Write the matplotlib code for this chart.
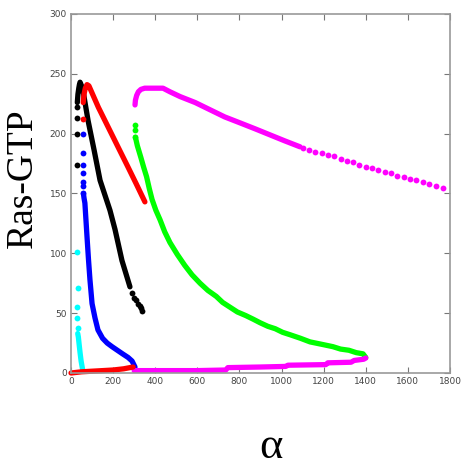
import numpy as np
import matplotlib.pyplot as plt

# cyan branch
cyan_dot_x = [29, 31, 30, 30, 31]
cyan_dot_y = [101, 71, 55, 46, 38]
cyan_x = [32, 35, 38, 43, 48, 55]
cyan_y = [33, 30, 25, 17, 10, 3]

# blue branch
blue_dot_x = [57, 57, 58, 58, 59, 59, 59]
blue_dot_y = [200, 184, 174, 167, 160, 156, 150]
blue_x = [59, 62, 66, 71, 76, 83, 90, 100, 114, 128, 150, 172, 195, 220, 245, 271, 290, 304]
blue_y = [150, 146, 142, 128, 114, 95, 78, 58, 46, 36, 29, 25, 22, 19, 16, 13, 10, 5]

# black branch
black_dot_x = [29, 29, 29, 29, 290, 300, 310, 318, 326, 332, 337]
black_dot_y = [222, 213, 200, 174, 67, 63, 61, 58, 56, 54, 52]
black_x = [30, 33, 37, 40, 43, 50, 57, 81, 110, 138, 185, 209, 242, 280]
black_y = [226, 233, 238, 241, 243, 240, 236, 211, 186, 161, 136, 120, 94, 72]

# red branch
red_dot_x = [57]
red_dot_y = [212]
red_x = [58, 62, 68, 76, 85, 100, 130, 161, 223, 271, 310, 351]
red_y = [226, 233, 238, 241, 240, 234, 222, 211, 189, 172, 158, 143]
red_low_x = [0, 50, 100, 150, 200, 250, 295]
red_low_y = [0, 1, 1.5, 2, 2.5, 3.5, 5]

# green branch
green_dot_x = [304, 305, 306]
green_dot_y = [207, 203, 197]
green_x = [306, 315, 332, 345, 359, 372, 385, 403, 423, 445, 470, 505, 540, 575,
           613, 650, 690, 720, 755, 790, 830, 865, 898, 935, 970, 1005, 1040,
           1090, 1135, 1190, 1244, 1280, 1320, 1355, 1387, 1400]
green_y = [197, 190, 180, 172, 164, 154, 145, 136, 128, 118, 109, 99, 90, 82,
           75, 69, 64, 59, 55, 51, 48, 45, 42, 39, 37, 34, 32,
           29, 26, 24, 22, 20, 19, 17, 16, 13]

# magenta branch
mag_x = [304, 306, 312, 320, 332, 350, 375, 437, 470, 518, 590, 660, 730,
         803, 875, 945, 1015, 1088]
mag_y = [224, 228, 232, 235, 237, 238, 238, 238, 235, 231, 226, 220, 214,
         209, 204, 199, 194, 189]
mag_dot_x = [1100, 1130, 1160, 1190, 1220, 1250, 1280, 1310, 1340, 1370, 1400,
             1430, 1460, 1490, 1520, 1550, 1580, 1610, 1640, 1670, 1700, 1735, 1767]
mag_dot_y = [188, 186, 185, 184, 182, 181, 179, 177, 176, 174, 172,
             171, 170, 168, 167, 165, 164, 162, 161, 160, 158, 156, 155]
mag_low_x = [300, 450, 600, 735, 745, 900, 1020, 1030, 1210, 1220, 1330, 1345, 1390, 1400]
mag_low_y = [2, 2, 2, 2.5, 4.5, 5, 5.5, 6.5, 7, 8.5, 9, 10.5, 11.5, 12.5]

fig = plt.figure(figsize=(4.62, 4.66), dpi=100)
ax = fig.add_axes([71 / 462, 93 / 466, 379 / 462, 359 / 466])

lw = 3.8
ms = 4.2


def band(x, y, c, **kw):
    ax.plot(x, y, '-', color=c, lw=lw, solid_capstyle='round',
            solid_joinstyle='round', **kw)


def dots(x, y, c):
    ax.plot(x, y, 'o', color=c, ms=ms, mec='none')


band(cyan_x, cyan_y, 'cyan')
dots(cyan_dot_x, cyan_dot_y, 'cyan')
band(blue_x, blue_y, 'blue')
dots(blue_dot_x, blue_dot_y, 'blue')
band(black_x, black_y, 'black')
dots(black_dot_x, black_dot_y, 'black')
band(red_x, red_y, 'red')
dots(red_dot_x, red_dot_y, 'red')
band(green_x, green_y, '#00ff00')
dots(green_dot_x, green_dot_y, '#00ff00')
band(mag_x, mag_y, 'magenta')
dots(mag_dot_x, mag_dot_y, 'magenta')
band(mag_low_x, mag_low_y, 'magenta')
band(red_low_x, red_low_y, 'red', clip_on=False)

ax.set_xlim(0, 1800)
ax.set_ylim(0, 300)
ax.set_xticks(np.arange(0, 1801, 200))
ax.set_yticks(np.arange(0, 301, 50))
ax.tick_params(direction='in', top=True, right=True, length=4, width=0.8,
               color='#777777', labelsize=6.5, labelcolor='#444444', pad=3)
for s in ax.spines.values():
    s.set_color('#999999')
    s.set_linewidth(1.2)

fig.text(23 / 462, 1 - 178 / 466, 'Ras-GTP', rotation=90, ha='center', va='center',
         family='Liberation Serif', fontsize=27)
fig.text(271 / 462, 1 - 447 / 466, 'α', ha='center', va='center',
         family='Liberation Serif', fontsize=32)

fig.savefig('out.png', dpi=100)
